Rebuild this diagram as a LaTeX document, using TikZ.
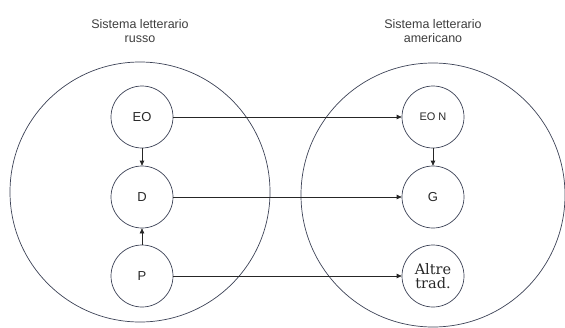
\documentclass[tikz,border=0pt]{standalone}
\usepackage{fontspec}
\setmainfont{Liberation Sans}
\newfontfamily\serifnode{DejaVu Serif}
\usetikzlibrary{arrows.meta}

\definecolor{ringcol}{RGB}{60,66,86}
\definecolor{textcol}{RGB}{40,40,40}

\tikzset{
  sysring/.style={circle, draw=ringcol, line width=0.7pt, minimum size=#1, inner sep=0pt},
  litnode/.style={circle, draw=ringcol, line width=0.7pt, minimum size=62pt, inner sep=0pt,
    font=\fontsize{13}{15}\selectfont, text=textcol},
  systitle/.style={align=center, font=\fontsize{12.5}{14.5}\selectfont, text=textcol!90!white},
  flow/.style={-{Triangle[length=5pt,width=4.5pt]}, line width=0.7pt, draw=black!85},
}

\begin{document}
\begin{tikzpicture}[x=1pt, y=-1pt]
  \useasboundingbox (0,0) rectangle (565,327);

  % Titles
  \node[systitle] (tru) at (140,31) {Sistema letterario\\russo};
  \node[systitle] (tam) at (433,31) {Sistema letterario\\americano};

  % Big rings
  \node[sysring=260pt] (ru) at (140,192) {};
  \node[sysring=264pt] (am) at (433,195) {};

  % Russian side
  \node[litnode] (eo) at (142,117) {EO};
  \node[litnode] (d)  at (142,197) {D};
  \node[litnode] (p)  at (142,276) {P};

  % American side
  \node[litnode, font=\fontsize{11}{13}\selectfont] (eon) at (433,117) {EO N};
  \node[litnode] (g)  at (433,197) {G};
  \node[litnode, align=center, font=\serifnode\fontsize{14.5}{14}\selectfont] (alt) at (433,276) {Altre\\trad.};

  % Vertical links
  \draw[flow] (eo) -- (d);
  \draw[flow] (p) -- (d);
  \draw[flow] (eon) -- (g);

  % Horizontal links
  \draw[flow] (eo) -- (eon);
  \draw[flow] (d) -- (g);
  \draw[flow] (p) -- (alt);

\end{tikzpicture}
\end{document}
